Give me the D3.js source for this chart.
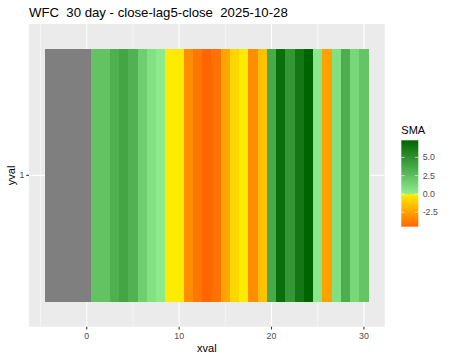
<!DOCTYPE html>
<html><head><meta charset="utf-8">
<script src="https://cdn.jsdelivr.net/npm/d3@7"></script>
<style>body{margin:0;background:#fff}svg{display:block;font-family:"Liberation Sans",Arial,sans-serif}text{white-space:pre}</style>
</head><body><svg id="c" width="450" height="360"></svg>
<script>
const titleText = "WFC  30 day - close-lag5-close  2025-10-28";
const xvals = [-4,-3,-2,-1,0,1,2,3,4,5,6,7,8,9,10,11,12,13,14,15,16,17,18,19,20,21,22,23,24,25,26,27,28,29,30];
const smaVals = [null,null,null,null,null,2.3,2.3,3.3,3.9,3.2,1.7,0.7,0.2,-0.1,-0.1,-3.2,-3.9,-4.47,-4.1,-2.4,-0.75,-0.1,-3.2,-1.5,3.6,6.8,4.7,6.3,7.33,0.3,-2.5,0.75,3.4,1.2,2.2];
const yLevels = ["1"];
const xTicks = [0,10,20,30];
const xMinor = [-5,5,15,25];
const legendTicks = [5.0,2.5,0.0,-2.5];
const smaMin = -4.47, smaMax = 7.33;

const svg = d3.select("#c");
const P = {l:29, r:384.7, t:24, b:326.7};
const x = d3.scaleLinear().domain([-6.25,32.25]).range([P.l,P.r]);
const ey = 0.0985;
const y = d3.scaleLinear().domain([0.5-ey,1.5+ey]).range([P.b,P.t]);
const col = d3.scaleLinear().domain([smaMin,0,0,smaMax]).range(["#FF6600","#FFEE00","#90EE90","#006400"]).clamp(true);

svg.append("rect").attr("x",P.l).attr("y",P.t).attr("width",P.r-P.l).attr("height",P.b-P.t).attr("fill","#EBEBEB");
svg.selectAll(".gmin").data(xMinor).join("line").attr("x1",d=>x(d)).attr("x2",d=>x(d)).attr("y1",P.t).attr("y2",P.b).attr("stroke","#fff").attr("stroke-width",0.53);
svg.selectAll(".gmaj").data(xTicks).join("line").attr("x1",d=>x(d)).attr("x2",d=>x(d)).attr("y1",P.t).attr("y2",P.b).attr("stroke","#fff").attr("stroke-width",1.07);
svg.selectAll(".gy").data(yLevels).join("line").attr("x1",P.l).attr("x2",P.r).attr("y1",d=>y(+d)).attr("y2",d=>y(+d)).attr("stroke","#fff").attr("stroke-width",1.07);

const tiles = xvals.map((v,i)=>({x:v,v:smaVals[i]}));
svg.append("g").attr("shape-rendering","crispEdges").selectAll(".tile").data(tiles).join("rect")
  .attr("x",d=>x(d.x-0.5)).attr("width",d=>x(d.x+0.5)-x(d.x-0.5)+0.5)
  .attr("y",y(1.5)).attr("height",y(0.5)-y(1.5))
  .attr("fill",d=>d.v==null?"#7F7F7F":col(d.v));

// x axis
const gx = svg.append("g");
xTicks.forEach(t=>{
  gx.append("line").attr("x1",x(t)).attr("x2",x(t)).attr("y1",P.b).attr("y2",P.b+2.75).attr("stroke","#333").attr("stroke-width",1.07);
  gx.append("text").attr("x",x(t)).attr("y",P.b+12.5).attr("text-anchor","middle").attr("font-size",8.8).attr("fill","#4D4D4D").text(t);
});
svg.append("text").attr("x",(P.l+P.r)/2).attr("y",352).attr("text-anchor","middle").attr("font-size",11).attr("fill","#000").text("xval");
// y axis
yLevels.forEach(l=>{
  svg.append("line").attr("x1",P.l-2.75).attr("x2",P.l).attr("y1",y(+l)).attr("y2",y(+l)).attr("stroke","#333").attr("stroke-width",1.07);
  svg.append("text").attr("x",P.l-4.5).attr("y",y(+l)+3.1).attr("text-anchor","end").attr("font-size",8.8).attr("fill","#4D4D4D").text(l);
});
svg.append("text").attr("transform",`translate(15,${(P.t+P.b)/2}) rotate(-90)`).attr("text-anchor","middle").attr("font-size",11).attr("fill","#000").text("yval");
// title
svg.append("text").attr("x",P.l).attr("y",16.5).attr("font-size",13.2).attr("fill","#000").text(titleText);

// legend
const L = {x:401.3, w:17, top:140.3, bot:226.7};
const ly = d3.scaleLinear().domain([smaMin,smaMax]).range([L.bot,L.top]);
const zeroOff = (ly(0)-L.top)/(L.bot-L.top);
const grad = svg.append("defs").append("linearGradient").attr("id","lg").attr("x1",0).attr("x2",0).attr("y1",0).attr("y2",1);
[[0,col(smaMax)],[zeroOff,"#90EE90"],[zeroOff,"#FFEE00"],[1,col(smaMin)]].forEach(s=>grad.append("stop").attr("offset",s[0]).attr("stop-color",s[1]));
svg.append("text").attr("x",L.x).attr("y",134).attr("font-size",11).attr("fill","#000").text("SMA");
svg.append("rect").attr("x",L.x).attr("y",L.top).attr("width",L.w).attr("height",L.bot-L.top).attr("fill","url(#lg)");
legendTicks.forEach(t=>{
  svg.append("line").attr("x1",L.x).attr("x2",L.x+3.4).attr("y1",ly(t)).attr("y2",ly(t)).attr("stroke","#fff").attr("stroke-width",0.6);
  svg.append("line").attr("x1",L.x+L.w-3.4).attr("x2",L.x+L.w).attr("y1",ly(t)).attr("y2",ly(t)).attr("stroke","#fff").attr("stroke-width",0.6);
  svg.append("text").attr("x",L.x+L.w+4.4).attr("y",ly(t)+3.1).attr("font-size",8.8).attr("fill","#4D4D4D").text(t.toFixed(1));
});
</script></body></html>
